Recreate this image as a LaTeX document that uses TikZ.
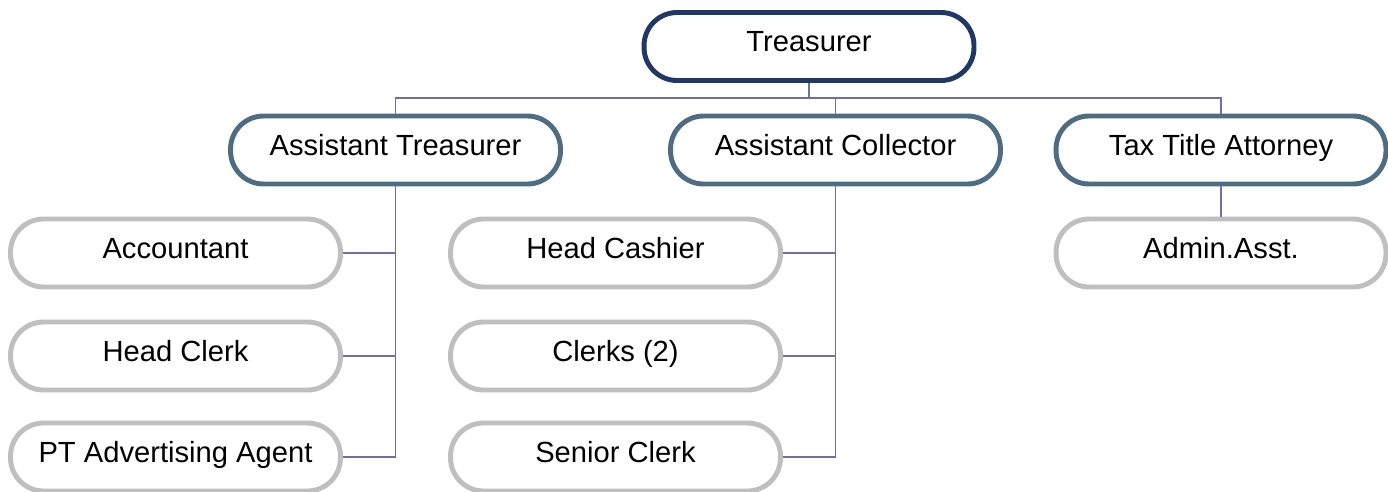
\documentclass[tikz,border=0pt]{standalone}
\usepackage{fontspec}
\setmainfont{Liberation Sans}
\usepackage{tikz}
\usetikzlibrary{positioning}

\definecolor{topnavy}{RGB}{31,56,100}
\definecolor{midslate}{RGB}{78,109,130}
\definecolor{lowgray}{RGB}{191,191,191}
\definecolor{linkpurple}{RGB}{110,110,168}

\begin{document}
\begin{tikzpicture}[
  x=0.02cm, y=-0.02cm,
  every node/.style={font=\fontsize{16.6}{18}\selectfont},
  pill/.style={
    draw,
    line width=2.8pt,
    rounded corners=0.66cm,
    fill=white,
    minimum width=6.6cm,
    minimum height=1.36cm,
    text height=0.4cm,
    text depth=0.2cm,
    inner sep=0pt
  },
  head/.style={pill,draw=topnavy},
  deputy/.style={pill,draw=midslate},
  staff/.style={pill,draw=lowgray},
  link/.style={draw=linkpurple,line width=0.9pt}
]
\useasboundingbox (0,0) rectangle (1388,491);
 \node[head] (tre) at (809,46.5) {Treasurer};
 \node[deputy] (atr) at (395.5,150) {Assistant Treasurer};
 \node[deputy] (acol) at (835.5,150) {Assistant Collector};
 \node[deputy] (tta) at (1221,150) {Tax Title Attorney};
 \node[staff] (acc) at (175.5,253) {Accountant};
 \node[staff] (hclk) at (175.5,356) {Head Clerk};
 \node[staff] (ptag) at (175.5,457) {PT Advertising Agent};
 \node[staff] (hcash) at (615.5,253) {Head Cashier};
 \node[staff] (clks) at (615.5,356) {Clerks (2)};
 \node[staff] (sclk) at (615.5,457) {Senior Clerk};
 \node[staff] (adm) at (1221,253) {Admin.Asst.};
 \coordinate (bus) at (809,98);
 \draw[link] (tre.south) -- (bus);
 \draw[link] (bus) -| (atr.north);
 \draw[link] (bus) -| (acol.north);
 \draw[link] (bus) -| (tta.north);
 \draw[link] (atr.south) |- (acc.east);
 \draw[link] (atr.south) |- (hclk.east);
 \draw[link] (atr.south) |- (ptag.east);
 \draw[link] (acol.south) |- (hcash.east);
 \draw[link] (acol.south) |- (clks.east);
 \draw[link] (acol.south) |- (sclk.east);
 \draw[link] (tta.south) -- (adm.north);
\end{tikzpicture}
\end{document}
